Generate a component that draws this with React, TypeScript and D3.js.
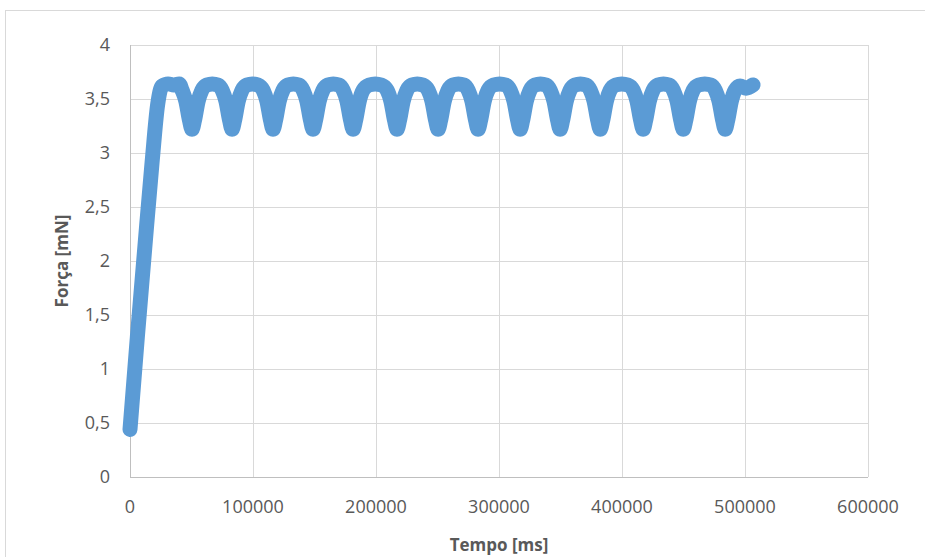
import React from 'react';
import * as d3 from 'd3';

const timeMs = [
  0, 6000, 12000, 18000, 22500, 26000, 31000, 35500, 40000, 42400, 45400, 48400, 50400,
  52400, 55400, 58400, 62400, 66900, 71400, 75000, 78000, 81000, 83000,
  85000, 88000, 91000, 95000, 99500, 104000, 108300, 111300, 114300, 116300,
  118300, 121300, 124300, 128300, 132800, 137300, 140800, 143800, 146800, 148800,
  150800, 153800, 156800, 160800, 165300, 169800, 173400, 176400, 179400, 181400,
  183400, 186400, 189400, 194400, 199400, 204400, 209100, 212100, 215100, 217100,
  219100, 222100, 225100, 229100, 233600, 238100, 242500, 245500, 248500, 250500,
  252500, 255500, 258500, 262500, 267000, 271500, 275000, 278000, 281000, 283000,
  285000, 288000, 291000, 295500, 300500, 305500, 309200, 312200, 315200, 317200,
  319200, 322200, 325200, 329200, 333700, 338200, 341700, 344700, 347700, 349700,
  351700, 354700, 357700, 361700, 366200, 370700, 374300, 377300, 380300, 382300,
  384300, 387300, 390300, 394800, 399800, 404800, 409200, 412200, 415200, 417200,
  419200, 422200, 425200, 429200, 433700, 438200, 441800, 444800, 447800, 449800,
  451800, 454800, 457800, 462300, 467300, 472300, 475900, 478900, 481900, 483900,
  485900, 488900, 491900, 496000, 501000, 506500,
];

const forceMN = [
  0.44, 1.3, 2.12, 2.92, 3.45, 3.62, 3.64, 3.63, 3.64, 3.58, 3.48, 3.3, 3.22,
  3.3, 3.48, 3.58, 3.63, 3.64, 3.63, 3.58, 3.48, 3.3, 3.22,
  3.3, 3.48, 3.58, 3.63, 3.64, 3.63, 3.58, 3.48, 3.3, 3.22,
  3.3, 3.48, 3.58, 3.63, 3.64, 3.63, 3.58, 3.48, 3.3, 3.22,
  3.3, 3.48, 3.58, 3.63, 3.64, 3.63, 3.58, 3.48, 3.3, 3.22,
  3.3, 3.48, 3.58, 3.63, 3.64, 3.63, 3.58, 3.48, 3.3, 3.22,
  3.3, 3.48, 3.58, 3.63, 3.64, 3.63, 3.58, 3.48, 3.3, 3.22,
  3.3, 3.48, 3.58, 3.63, 3.64, 3.63, 3.58, 3.48, 3.3, 3.22,
  3.3, 3.48, 3.58, 3.63, 3.64, 3.63, 3.58, 3.48, 3.3, 3.22,
  3.3, 3.48, 3.58, 3.63, 3.64, 3.63, 3.58, 3.48, 3.3, 3.22,
  3.3, 3.48, 3.58, 3.63, 3.64, 3.63, 3.58, 3.48, 3.3, 3.22,
  3.3, 3.48, 3.58, 3.63, 3.64, 3.63, 3.58, 3.48, 3.3, 3.22,
  3.3, 3.48, 3.58, 3.63, 3.64, 3.63, 3.58, 3.48, 3.3, 3.22,
  3.3, 3.48, 3.58, 3.63, 3.64, 3.63, 3.58, 3.48, 3.3, 3.22,
  3.3, 3.48, 3.58, 3.62, 3.6, 3.63,
];

const xTicks = [0, 100000, 200000, 300000, 400000, 500000, 600000];
const yTicks = [0, 0.5, 1, 1.5, 2, 2.5, 3, 3.5, 4];
const yTickLabels = ['0', '0,5', '1', '1,5', '2', '2,5', '3', '3,5', '4'];

const W = 925;
const H = 557;
const M = { left: 130, right: 868, top: 45, bottom: 477 };
const FONT = '"Open Sans", sans-serif';

export default function App() {
  const x = d3.scaleLinear().domain([0, 600000]).range([M.left, M.right]);
  const y = d3.scaleLinear().domain([0, 4]).range([M.bottom, M.top]);

  const points = timeMs.map((t, i) => [t, forceMN[i]] as [number, number]);
  const line = d3.line<[number, number]>()
    .x(d => x(d[0]))
    .y(d => y(d[1]))
    .curve(d3.curveMonotoneX);

  return (
    <svg width={W} height={H} style={{ position: 'absolute', left: 0, top: 0, background: '#fff' }}>
      <rect x={5.5} y={10.5} width={W + 20} height={H + 20} fill="#fff" stroke="#d9d9d9" />

      {/* grid */}
      {yTicks.map(t => (
        <line key={'gy' + t} x1={M.left} x2={M.right} y1={Math.round(y(t)) + 0.5} y2={Math.round(y(t)) + 0.5}
          stroke="#d9d9d9" />
      ))}
      {xTicks.map(t => (
        <line key={'gx' + t} x1={Math.round(x(t)) + 0.5} x2={Math.round(x(t)) + 0.5} y1={M.top} y2={M.bottom}
          stroke="#d9d9d9" />
      ))}
      {/* axis lines */}
      <line x1={M.left + 0.5} x2={M.left + 0.5} y1={M.top} y2={M.bottom} stroke="#bfbfbf" />
      <line x1={M.left} x2={M.right} y1={M.bottom + 0.5} y2={M.bottom + 0.5} stroke="#bfbfbf" />

      {/* data: dense markers merge into one thick band */}
      <path d={line(points) || ''} fill="none" stroke="#5b9bd5" strokeWidth={15}
        strokeLinejoin="round" strokeLinecap="round" />

      {/* tick labels */}
      {yTicks.map((t, i) => (
        <text key={'ty' + t} x={110} y={y(t)} dy="0.35em" textAnchor="end"
          fontFamily={FONT} fontSize={18} fill="#595959">{yTickLabels[i]}</text>
      ))}
      {xTicks.map(t => (
        <text key={'tx' + t} x={x(t)} y={507} dy="0.35em" textAnchor="middle"
          fontFamily={FONT} fontSize={18} fill="#595959">{t}</text>
      ))}

      {/* axis titles */}
      <text x={(M.left + M.right) / 2} y={545} dy="0.35em" textAnchor="middle"
        fontFamily={FONT} fontSize={17} fontWeight="bold" fill="#595959">Tempo [ms]</text>
      <text transform={`translate(62,${(M.top + M.bottom) / 2}) rotate(-90)`} dy="0.35em" textAnchor="middle"
        fontFamily={FONT} fontSize={17} fontWeight="bold" fill="#595959">Força [mN]</text>
    </svg>
  );
}
